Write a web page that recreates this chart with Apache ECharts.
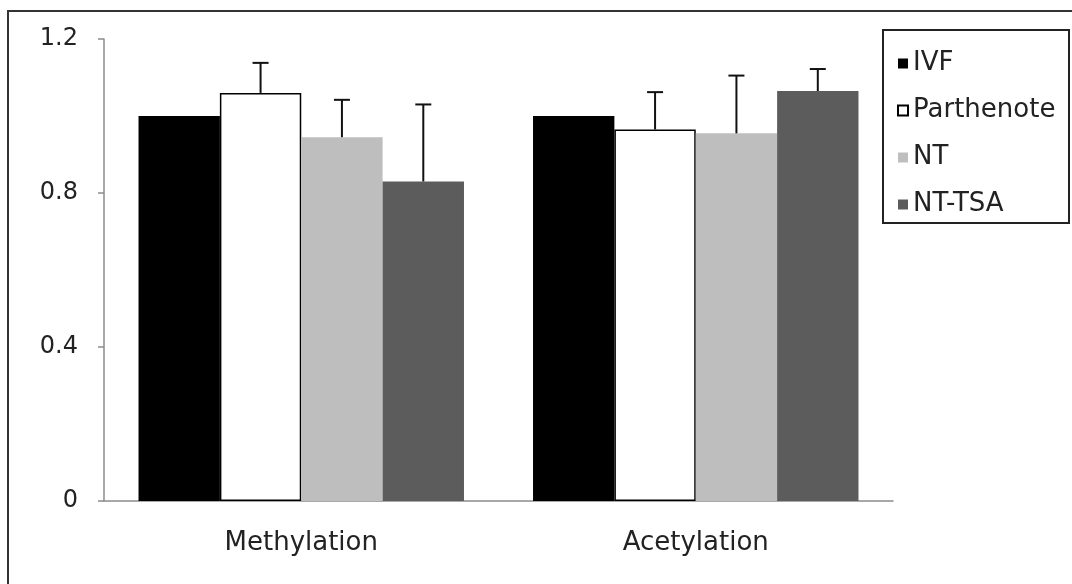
<!DOCTYPE html>
<html>
<head>
<meta charset="utf-8">
<script src="https://cdn.jsdelivr.net/npm/echarts@6/dist/echarts.min.js"></script>
<style>
  html, body { margin: 0; padding: 0; background: #fff; }
  #chart { width: 1072px; height: 584px; }
</style>
</head>
<body>
<div id="chart"></div>
<script>
var categories = ["Methylation", "Acetylation"];
var seriesNames = ["IVF", "Parthenote", "NT", "NT-TSA"];

var ivf = [1.0, 1.0];
var parthenote = [1.06, 0.965];
var nt = [0.945, 0.955];
var ntTsa = [0.83, 1.065];

var ivfErr = [0, 0];
var parthenoteErr = [0.078, 0.097];
var ntErr = [0.097, 0.15];
var ntTsaErr = [0.2, 0.057];

var yTicks = [0, 0.4, 0.8, 1.2];

var colors = ["#000000", "#ffffff", "#bebebe", "#5c5c5c"];
var font = "DejaVu Sans";
var gapPct = 0.175;

var values = [ivf, parthenote, nt, ntTsa];
var errs = [ivfErr, parthenoteErr, ntErr, ntTsaErr];

// error bar data: [category, series index, mean, err]
var errData = [];
values.forEach(function (vals, s) {
  vals.forEach(function (v, c) {
    if (errs[s][c] > 0) errData.push([c, s, v, errs[s][c]]);
  });
});

var chart = echarts.init(document.getElementById("chart"));

var series = values.map(function (vals, s) {
  return {
    name: seriesNames[s],
    type: "bar",
    data: vals,
    barGap: "0%",
    barCategoryGap: gapPct * 100 + "%",
    itemStyle: {
      color: colors[s],
      borderColor: s === 1 ? "#000" : colors[s],
      borderWidth: s === 1 ? 1.5 : 0
    },
    emphasis: { disabled: true }
  };
});

series.push({
  type: "custom",
  name: "err",
  z: 5,
  encode: { x: 0, y: 2 },
  data: errData,
  renderItem: function (params, api) {
    var c = api.value(0);
    var s = api.value(1);
    var mean = api.value(2);
    var err = api.value(3);
    var base = api.coord([c, mean]);
    var top = api.coord([c, mean + err]);
    var catW = api.size([1, 0])[0];
    var barW = catW * (1 - gapPct) / 4;
    var x = base[0] + (s - 1.5) * barW;
    var style = { stroke: "#111", lineWidth: 2 };
    return {
      type: "group",
      children: [
        { type: "line", shape: { x1: x, y1: base[1], x2: x, y2: top[1] }, style: style },
        { type: "line", shape: { x1: x - 8, y1: top[1], x2: x + 8, y2: top[1] }, style: style }
      ]
    };
  }
});

var option = {
  animation: false,
  textStyle: { fontFamily: font },
  grid: { left: 104, right: 179, top: 39, bottom: 83 },
  legend: {
    data: seriesNames,
    orient: "vertical",
    left: 892,
    top: 43,
    icon: "rect",
    itemWidth: 10,
    itemHeight: 10,
    itemGap: 16,
    selectedMode: false,
    textStyle: { fontFamily: font, fontSize: 26, color: "#222", lineHeight: 28, padding: [3, 0, 0, 0] }
  },
  xAxis: {
    type: "category",
    data: categories,
    axisLine: { lineStyle: { color: "#8c8c8c", width: 1.5 } },
    axisTick: { length: 9, lineStyle: { color: "#8c8c8c", width: 1.5 } },
    axisLabel: { fontFamily: font, fontSize: 26, color: "#222", margin: 29 }
  },
  yAxis: {
    type: "value",
    min: yTicks[0],
    max: yTicks[yTicks.length - 1],
    interval: 0.4,
    splitLine: { show: false },
    axisLine: { show: true, lineStyle: { color: "#8c8c8c", width: 1.5 } },
    axisTick: { show: true, length: 6, lineStyle: { color: "#8c8c8c", width: 1.5 } },
    axisLabel: { fontFamily: font, fontSize: 24, color: "#222", margin: 26 }
  },
  graphic: [
    {
      type: "rect",
      shape: { x: 8, y: 11, width: 1100, height: 620 },
      style: { fill: null, stroke: "#333", lineWidth: 2 },
      silent: true
    },
    {
      type: "rect",
      shape: { x: 883, y: 30, width: 186, height: 193 },
      style: { fill: null, stroke: "#222", lineWidth: 2 },
      silent: true
    }
  ],
  series: series
};

chart.setOption(option);
</script>
</body>
</html>
